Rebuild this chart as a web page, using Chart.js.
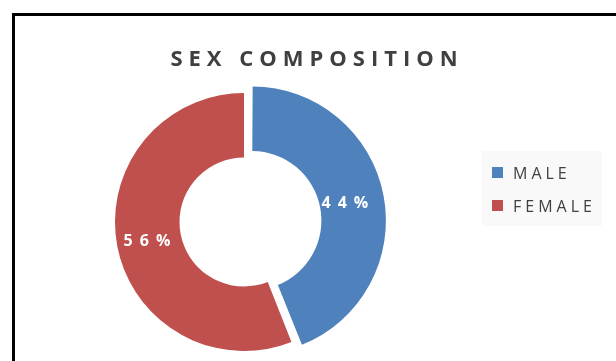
<!DOCTYPE html>
<html lang="en">
<head>
<meta charset="UTF-8">
<title>Sex Composition</title>
<script src="https://cdn.jsdelivr.net/npm/chart.js"></script>
<style>
  html, body { margin: 0; padding: 0; background: #fff; overflow: hidden; }
  #frame {
    position: absolute; left: 12px; top: 13px; width: 660px; height: 400px;
    border-left: 3px solid #000; border-top: 3px solid #000;
  }
  #chart { position: absolute; left: 0; top: 0; }
</style>
</head>
<body>
<div id="frame"></div>
<canvas id="chart" width="616" height="361"></canvas>
<script>
const chartTitle = "SEX COMPOSITION";
const categories = ["MALE", "FEMALE"];
const shares = [44, 56];
const sliceColors = ["#4f81bd", "#c0504d"];
const explode = [32, 0];   // chart.js moves a slice by offset / 4

const textColor = "#404040";

// draw text with letter spacing, centred on x (canvas adds spacing after the last char too)
function spacedText(ctx, txt, x, y, spacing) {
    ctx.letterSpacing = spacing + "px";
    ctx.textAlign = "left";
    const w = ctx.measureText(txt).width;
    ctx.fillText(txt, x - (w - spacing) / 2, y);
}

// % labels, title and legend box - drawn here to get the spaced-out lettering
const decorations = {
    id: "decorations",
    afterDatasetsDraw(chart) {
        const ctx = chart.ctx;
        const meta = chart.getDatasetMeta(0);
        const total = shares.reduce((a, b) => a + b, 0);
        ctx.save();
        ctx.font = "bold 16px 'Open Sans'";
        ctx.fillStyle = "#ffffff";
        ctx.textBaseline = "middle";
        meta.data.forEach((arc, i) => {
            const mid = (arc.startAngle + arc.endAngle) / 2;
            const r = (arc.innerRadius + arc.outerRadius) / 2 + explode[i] / 4;
            const x = arc.x + Math.cos(mid) * r;
            const y = arc.y + Math.sin(mid) * r;
            spacedText(ctx, Math.round(shares[i] / total * 100) + "%", x - 2, y + 1, 7);
        });
        ctx.restore();
    },
    afterDraw(chart) {
        const ctx = chart.ctx;
        ctx.save();

        // title
        ctx.fillStyle = textColor;
        ctx.font = "bold 22px 'Open Sans'";
        ctx.textBaseline = "alphabetic";
        spacedText(ctx, chartTitle, 314, 66, 6);

        // legend
        ctx.letterSpacing = "0px";
        ctx.fillStyle = "#f9f9f9";
        ctx.fillRect(482, 151, 120, 75);
        ctx.font = "16px 'Open Sans'";
        categories.forEach((name, i) => {
            const top = 167 + i * 33;
            ctx.fillStyle = sliceColors[i];
            ctx.fillRect(492, top, 11, 11);
            ctx.fillStyle = textColor;
            ctx.letterSpacing = "4px";
            ctx.textAlign = "left";
            ctx.fillText(name, 513, top + 12);
            ctx.letterSpacing = "0px";
        });
        ctx.restore();
    }
};

new Chart(document.getElementById("chart"), {
    type: "doughnut",
    data: {
        labels: categories,
        datasets: [{
            data: shares,
            backgroundColor: sliceColors,
            borderWidth: 0,
            offset: explode
        }]
    },
    options: {
        responsive: false,
        animation: false,
        radius: 129,
        cutout: "50%",
        layout: { padding: { left: 100, right: 228, top: 90, bottom: 7 } },
        plugins: {
            legend: { display: false },
            title: { display: false },
            tooltip: { enabled: false }
        }
    },
    plugins: [decorations]
});
</script>
</body>
</html>
